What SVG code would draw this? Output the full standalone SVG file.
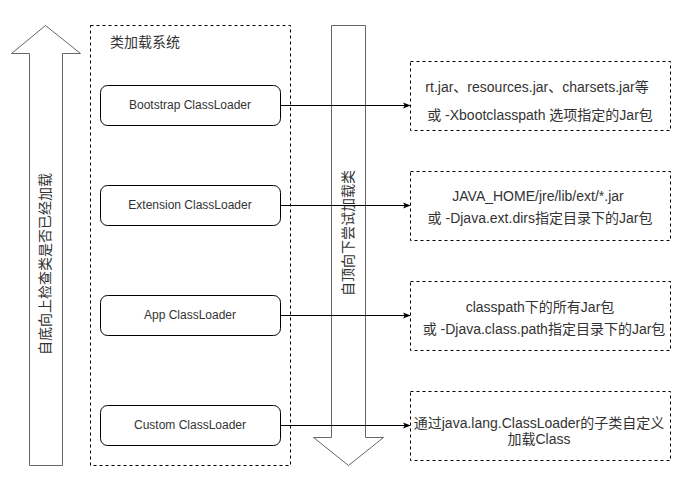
<svg xmlns="http://www.w3.org/2000/svg" width="690" height="498" viewBox="0 0 690 498">
<style>
text{font-family:"Liberation Sans","Noto Sans CJK SC",sans-serif;fill:#333}
.node rect{fill:#fff;stroke:#000;stroke-width:1}
.dash{fill:none;stroke:#000;stroke-width:1;stroke-dasharray:3 3}
.big{fill:#fff;stroke:#666;stroke-width:1}
.lbl{font-size:12px;text-anchor:middle;dominant-baseline:central}
.box{font-size:14px;text-anchor:middle;dominant-baseline:central}
.edge{stroke:#000;stroke-width:1;fill:none;marker-end:url(#ah)}
</style>
<defs>
<marker id="ah" viewBox="0 0 10 10" refX="9" refY="5" markerWidth="8" markerHeight="8" markerUnits="userSpaceOnUse" orient="auto">
<path d="M0,1 L10,5 L0,9 L2.5,5 Z" fill="#000"/>
</marker>
</defs>
<rect width="690" height="498" fill="#fff"/>
<g id="up-arrow">
<polygon class="big" points="45.5,25.5 80.5,53.5 62.5,53.5 62.5,465.5 29.5,465.5 29.5,53.5 11.5,53.5"/>
<text class="box" transform="translate(45,264) rotate(-90)">自底向上检查类是否已经加载</text>
</g>
<g id="system">
<rect class="dash" x="90.5" y="25.5" width="200" height="440"/>
<text x="110" y="42" font-size="14" dominant-baseline="central">类加载系统</text>
</g>
<g id="down-arrow">
<polygon class="big" points="331.5,25.5 365.5,25.5 365.5,437.5 383.5,437.5 348.5,465.5 313.5,437.5 331.5,437.5"/>
<text class="box" transform="translate(348,233) rotate(-90)">自顶向下尝试加载类</text>
</g>
<g id="bootstrap" class="node">
<rect x="100.5" y="85.5" width="180" height="40" rx="7"/>
<text class="lbl" x="190" y="105">Bootstrap ClassLoader</text>
</g>
<g id="extension" class="node">
<rect x="100.5" y="185.5" width="180" height="40" rx="7"/>
<text class="lbl" x="190" y="205">Extension ClassLoader</text>
</g>
<g id="app" class="node">
<rect x="100.5" y="295.5" width="180" height="40" rx="7"/>
<text class="lbl" x="190" y="315">App ClassLoader</text>
</g>
<g id="custom" class="node">
<rect x="100.5" y="405.5" width="180" height="40" rx="7"/>
<text class="lbl" x="190" y="425">Custom ClassLoader</text>
</g>
<g id="box1">
<rect class="dash" x="410.5" y="61.5" width="260" height="69"/>
<text class="box" x="537" y="87">rt.jar、resources.jar、charsets.jar等</text>
<text class="box" x="540" y="115">或 -Xbootclasspath 选项指定的Jar包</text>
</g>
<g id="box2">
<rect class="dash" x="410.5" y="171.5" width="260" height="69"/>
<text class="box" x="538" y="196">JAVA_HOME/jre/lib/ext/*.jar</text>
<text class="box" x="540" y="218">或 -Djava.ext.dirs指定目录下的Jar包</text>
</g>
<g id="box3">
<rect class="dash" x="410.5" y="281.5" width="260" height="69"/>
<text class="box" x="540" y="307">classpath下的所有Jar包</text>
<text class="box" x="544" y="329">或 -Djava.class.path指定目录下的Jar包</text>
</g>
<g id="box4">
<rect class="dash" x="410.5" y="391.5" width="260" height="69"/>
<text class="box" x="539" y="423">通过java.lang.ClassLoader的子类自定义</text>
<text class="box" x="539" y="439">加载Class</text>
</g>
<g id="connectors">
<line class="edge" x1="280.5" y1="105.5" x2="410" y2="105.5"/>
<line class="edge" x1="280.5" y1="205.5" x2="410" y2="205.5"/>
<line class="edge" x1="280.5" y1="315.5" x2="410" y2="315.5"/>
<line class="edge" x1="280.5" y1="425.5" x2="410" y2="425.5"/>
</g>
</svg>
